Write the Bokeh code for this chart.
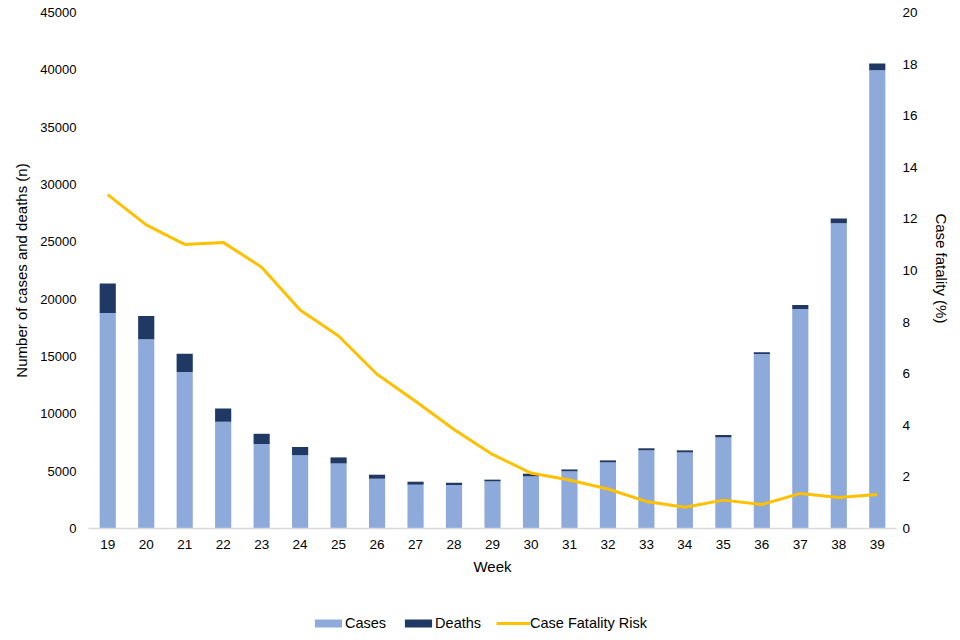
from bokeh.plotting import figure
from bokeh.layouts import column
from bokeh.models import (ColumnDataSource, LinearAxis, Range1d, FixedTicker,
                          Legend, LegendItem)
from bokeh.embed import file_html
from bokeh.resources import INLINE

weeks = [19, 20, 21, 22, 23, 24, 25, 26, 27, 28, 29, 30, 31, 32, 33, 34, 35, 36, 37, 38, 39]
cases = [18800, 16500, 13650, 9300, 7370, 6390, 5680, 4340, 3820, 3790, 4110,
         4550, 4980, 5770, 6820, 6640, 7950, 15220, 19140, 26620, 39970]
deaths = [2560, 2030, 1600, 1170, 890, 720, 520, 350, 260, 200, 150,
          230, 170, 170, 175, 175, 205, 150, 350, 410, 580]
cfr = [12.94, 11.77, 11.01, 11.09, 10.13, 8.47, 7.46, 5.98, 4.93, 3.84, 2.87,
       2.15, 1.88, 1.53, 1.05, 0.82, 1.10, 0.93, 1.36, 1.20, 1.32]
week_labels = [str(w) for w in weeks]
left_ticks = list(range(0, 45001, 5000))
right_ticks = list(range(0, 21, 2))
series_names = ["Cases", "Deaths", "Case Fatality Risk"]

CASES_COL = "#8EAADB"
DEATHS_COL = "#203864"
LINE_COL = "#FFC000"
FONT = "Liberation Sans"

src = ColumnDataSource(dict(week=weeks, cases=cases, deaths=deaths, cfr=cfr))

p = figure(width=952, height=590, output_backend="svg", toolbar_location=None,
           x_range=Range1d(18.5, 39.5), y_range=Range1d(0, 45000),
           min_border_left=88, min_border_right=52, min_border_top=12,
           min_border_bottom=62)
p.outline_line_color = None
p.xgrid.grid_line_color = None
p.ygrid.grid_line_color = None
p.background_fill_color = "white"
p.border_fill_color = "white"

p.extra_y_ranges = {"cfr": Range1d(0, 20)}

bars = p.vbar_stack(["cases", "deaths"], x="week", width=0.42,
                    color=[CASES_COL, DEATHS_COL], line_color=None, source=src)
line = p.line(x="week", y="cfr", y_range_name="cfr", line_color=LINE_COL,
              line_width=3, source=src)

# x axis
xa = p.xaxis[0]
xa.ticker = FixedTicker(ticks=weeks, minor_ticks=[])
xa.major_label_overrides = {w: l for w, l in zip(weeks, week_labels)}
xa.major_tick_line_color = None
xa.minor_tick_line_color = None
xa.major_tick_out = 0
xa.major_tick_in = 0
xa.minor_tick_out = 0
xa.axis_line_color = "#D9D9D9"
xa.axis_line_width = 1.5
xa.major_label_text_font = FONT
xa.major_label_text_font_size = "13.5px"
xa.major_label_text_color = "black"
xa.major_label_standoff = 11
xa.axis_label = "Week"
xa.axis_label_text_font = FONT
xa.axis_label_text_font_size = "15px"
xa.axis_label_text_font_style = "normal"
xa.axis_label_text_color = "black"
xa.axis_label_standoff = 6

# left axis
ya = p.yaxis[0]
ya.ticker = FixedTicker(ticks=left_ticks, minor_ticks=[])
ya.axis_line_color = None
ya.major_tick_line_color = None
ya.minor_tick_line_color = None
ya.major_tick_out = 0
ya.major_tick_in = 0
ya.minor_tick_out = 0
ya.major_label_text_font = FONT
ya.major_label_text_font_size = "13px"
ya.major_label_text_color = "black"
ya.major_label_standoff = 12
ya.axis_label = "Number of cases and deaths (n)"
ya.axis_label_text_font = FONT
ya.axis_label_text_font_size = "15px"
ya.axis_label_text_font_style = "normal"
ya.axis_label_text_color = "black"
ya.axis_label_standoff = 7

# right axis
ra = LinearAxis(y_range_name="cfr", ticker=FixedTicker(ticks=right_ticks, minor_ticks=[]))
ra.axis_line_color = None
ra.major_tick_line_color = None
ra.minor_tick_line_color = None
ra.major_tick_out = 0
ra.major_tick_in = 0
ra.minor_tick_out = 0
ra.major_label_text_font = FONT
ra.major_label_text_font_size = "13.5px"
ra.major_label_text_color = "black"
ra.major_label_standoff = 6
ra.axis_label = "Case fatality  (%)"
ra.axis_label_text_font = FONT
ra.axis_label_text_font_size = "15px"
ra.axis_label_text_font_style = "normal"
ra.axis_label_text_color = "black"
ra.axis_label_standoff = 12
p.add_layout(ra, "right")

# separate strip holding the legend below the chart; its data lie below its y range
lg = figure(width=952, height=45, output_backend="svg", toolbar_location=None,
            x_range=Range1d(18.5, 39.5), y_range=Range1d(50000, 60000),
            x_axis_location=None, y_axis_location=None,
            min_border=0, min_border_left=88, min_border_right=52,
            min_border_top=0, min_border_bottom=0)
lg.outline_line_color = None
lg.xgrid.grid_line_color = None
lg.ygrid.grid_line_color = None
lg.background_fill_color = "white"
lg.border_fill_color = "white"
r_cases = lg.vbar(x="week", top="cases", width=0.42, color=CASES_COL, line_color=None, source=src)
r_deaths = lg.vbar(x="week", top="deaths", width=0.42, color=DEATHS_COL, line_color=None, source=src)
r_line = lg.line(x="week", y="cfr", line_color=LINE_COL, line_width=3, source=src)

legend = Legend(items=[LegendItem(label=series_names[0], renderers=[r_cases]),
                       LegendItem(label=series_names[1], renderers=[r_deaths]),
                       LegendItem(label=series_names[2], renderers=[r_line])],
                orientation="horizontal", location=(223, 4),
                glyph_width=34, glyph_height=10, label_standoff=0, spacing=15,
                padding=0, margin=0, border_line_color=None,
                background_fill_alpha=0,
                label_text_font=FONT, label_text_font_size="14.5px",
                label_text_color="black")
lg.add_layout(legend, "center")

layout = column(p, lg, spacing=0)
open("out.html", "w").write(file_html(layout, INLINE))
